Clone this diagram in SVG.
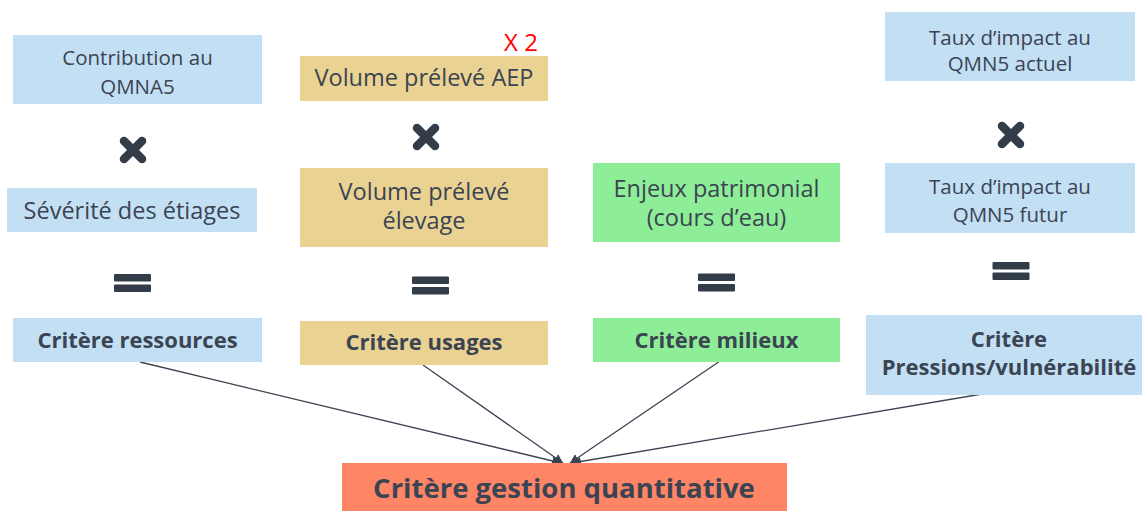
<svg xmlns="http://www.w3.org/2000/svg" width="1142" height="511" viewBox="0 0 1142 511">
<defs>
<style>
.t{font-family:"Open Sans","Noto Sans",sans-serif;fill:#3b4452;text-anchor:middle}
.b{font-weight:bold}
.blue{fill:#c2dff4}
.tan{fill:#ead293}
.green{fill:#8eee97}
.sal{fill:#fe8566}
.op{fill:#333d4a}
.xs{stroke:#333d4a;stroke-width:8.5;stroke-linecap:round}
.ln{stroke:#3b4452;stroke-width:1.3;fill:none;marker-end:url(#ah)}
</style>
<marker id="ah" viewBox="0 0 10 10" refX="10" refY="5" markerWidth="9" markerHeight="9" markerUnits="userSpaceOnUse" orient="auto">
<path d="M0,0 L10,5 L0,10 z" fill="#3b4452"/>
</marker>
<g id="cross"><line class="xs" x1="-9" y1="-9" x2="9" y2="9"/><line class="xs" x1="9" y1="-9" x2="-9" y2="9"/></g>
<g id="eqs"><rect x="-18.5" y="-9" width="37" height="7.5" rx="1"/><rect x="-18.5" y="1.5" width="37" height="7.5" rx="1"/></g>
</defs>
<rect width="1142" height="511" fill="#fff"/>

<g id="connectors">
<line class="ln" x1="140" y1="362" x2="561" y2="463"/>
<line class="ln" x1="423" y1="365" x2="563" y2="463"/>
<line class="ln" x1="720" y1="361" x2="570" y2="463"/>
<line class="ln" x1="1000" y1="391" x2="572" y2="463"/>
</g>

<g id="n-contribution"><rect class="blue" x="13" y="35" width="249" height="69"/>
<text class="t" font-size="20.5" x="137.5" y="65">Contribution au<tspan x="137.5" dy="29">QMNA5</tspan></text></g>
<g id="op-x1"><use href="#cross" x="133" y="150"/></g>
<g id="n-severite"><rect class="blue" x="7" y="188" width="250" height="44"/>
<text class="t" font-size="23.5" x="132" y="219">Sévérité des étiages</text></g>
<g id="op-eq1" class="op"><use href="#eqs" x="132.5" y="283"/></g>
<g id="n-ressources"><rect class="blue" x="13" y="318" width="249" height="44"/>
<text class="t b" font-size="22" x="137.5" y="348">Critère ressources</text></g>

<g id="n-x2"><text font-family="Open Sans,sans-serif" font-size="24" fill="#ff0000" x="521" y="51" text-anchor="middle">X 2</text></g>
<g id="n-aep"><rect class="tan" x="300" y="56" width="248" height="45"/>
<text class="t" font-size="23.5" x="424" y="86">Volume prélevé AEP</text></g>
<g id="op-x2"><use href="#cross" x="426" y="137"/></g>
<g id="n-elevage"><rect class="tan" x="300" y="168" width="248" height="79"/>
<text class="t" font-size="23.5" x="424" y="199.5">Volume prélevé<tspan x="424" dy="29">élevage</tspan></text></g>
<g id="op-eq2" class="op"><use href="#eqs" x="430.5" y="285.5"/></g>
<g id="n-usages"><rect class="tan" x="300" y="321" width="248" height="44"/>
<text class="t b" font-size="22" x="424" y="350">Critère usages</text></g>

<g id="n-enjeux"><rect class="green" x="593" y="163" width="247" height="79"/>
<text class="t" font-size="23.5" x="716.5" y="196.5">Enjeux patrimonial<tspan x="716.5" dy="29">(cours d’eau)</tspan></text></g>
<g id="op-eq3" class="op"><use href="#eqs" x="716.5" y="282.5"/></g>
<g id="n-milieux"><rect class="green" x="593" y="318" width="247" height="44"/>
<text class="t b" font-size="22" x="716.5" y="348">Critère milieux</text></g>

<g id="n-actuel"><rect class="blue" x="885" y="12" width="250" height="69"/>
<text class="t" font-size="20.5" x="1010" y="44.5">Taux d’impact au<tspan x="1010" dy="26">QMN5 actuel</tspan></text></g>
<g id="op-x3"><use href="#cross" x="1011" y="135"/></g>
<g id="n-futur"><rect class="blue" x="885" y="163" width="250" height="70"/>
<text class="t" font-size="20.5" x="1010" y="194">Taux d’impact au<tspan x="1010" dy="28">QMN5 futur</tspan></text></g>
<g id="op-eq4" class="op"><use href="#eqs" x="1011" y="271"/></g>
<g id="n-pressions"><rect class="blue" x="866" y="315" width="276" height="80"/>
<text class="t b" font-size="22" x="1009" y="347">Critère<tspan x="1009" dy="28">Pressions/vulnérabilité</tspan></text></g>

<g id="n-gestion"><rect class="sal" x="342" y="463" width="445" height="48"/>
<text class="t b" font-size="27.5" x="564" y="498">Critère gestion quantitative</text></g>
</svg>
